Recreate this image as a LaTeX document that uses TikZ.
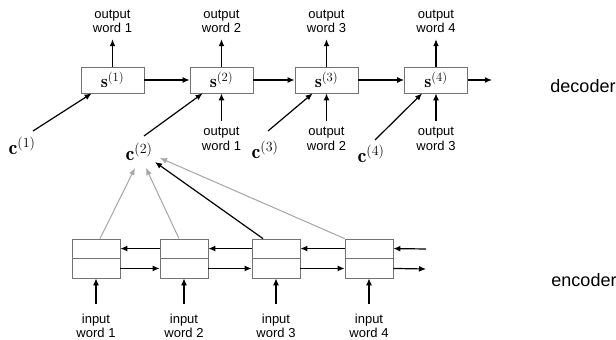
\RequirePackage{fix-cm}
\documentclass[tikz,border=0pt]{standalone}
\usepackage{fontspec}
\setsansfont{Liberation Sans}
\usetikzlibrary{arrows.meta,calc}
\begin{document}
\begin{tikzpicture}[x=1pt,y=-1pt,
  arr/.style={line width=1.2pt,-{Latex[length=7pt,width=6pt]}},
  garr/.style={line width=1pt,draw=black!35,-{Latex[length=7pt,width=6pt]}},
  dbox/.style={draw=black!55,line width=0.8pt,minimum width=63pt,minimum height=26pt,inner sep=0pt,font=\fontsize{18}{20}\selectfont},
  ebox/.style={draw=black!55,line width=0.8pt,minimum width=48pt,minimum height=39pt,inner sep=0pt},
  lbl/.style={align=center,inner sep=0pt,font=\sffamily\fontsize{13}{14.5}\selectfont},
  side/.style={inner sep=0pt,font=\sffamily\fontsize{18}{20}\selectfont},
  cl/.style={inner sep=0pt,font=\fontsize{20}{22}\selectfont}]
\useasboundingbox (0,0) rectangle (616,340);
% decoder
\node[dbox] (s1) at (112.5,80) {$\mathbf{s}^{(1)}$};
\node[dbox] (s2) at (221.5,80) {$\mathbf{s}^{(2)}$};
\node[dbox] (s3) at (326.5,80) {$\mathbf{s}^{(3)}$};
\node[dbox] (s4) at (436,80) {$\mathbf{s}^{(4)}$};
\coordinate (send) at (492,80);
\draw[arr] (s1) -- (s2);
\draw[arr] (s2) -- (s3);
\draw[arr] (s3) -- (s4);
\draw[arr] (s4) -- (send);
% outputs
\node[lbl] (o1) at (112.5,21.5) {output\\word 1};
\node[lbl] (o2) at (221.5,21.5) {output\\word 2};
\node[lbl] (o3) at (326.5,21.5) {output\\word 3};
\node[lbl] (o4) at (436,21.5) {output\\word 4};
\foreach \i in {1,2,3,4}{\draw[arr] (s\i.north) -- ($(o\i.south)+(0,6)$);}
% previous outputs
\node[lbl] (p2) at (221.5,139) {output\\word 1};
\node[lbl] (p3) at (326.5,139) {output\\word 2};
\node[lbl] (p4) at (436,139) {output\\word 3};
\foreach \i in {2,3,4}{\draw[arr] ($(p\i.north)+(0,-6)$) -- (s\i.south);}
% contexts
\node[cl] (c1) at (22,146) {$\mathbf{c}^{(1)}$};
\node[cl] (c2) at (139,152) {$\mathbf{c}^{(2)}$};
\node[cl] (c3) at (265,150) {$\mathbf{c}^{(3)}$};
\node[cl] (c4) at (371,154) {$\mathbf{c}^{(4)}$};
\draw[arr] ($(c1)+(11,-15)$) -- ($(s1.south west)+(11,0)$);
\draw[arr] ($(c2)+(5,-16)$) -- ($(s2.south west)+(13,0)$);
\draw[arr] ($(c3)+(3,-19)$) -- ($(s3.south west)+(18,0)$);
\draw[arr] ($(c4)+(4,-14)$) -- ($(s4.south west)+(18,0)$);
% encoder
\foreach \i/\x in {1/96,2/184,3/276,4/369}{
  \node[ebox] (e\i) at (\x,258.5) {};
  \draw[draw=black!55,line width=0.8pt] (e\i.west) -- (e\i.east);
  \node[lbl] (in\i) at (\x,326) {input\\word \i};
  \draw[arr] ($(in\i.north)+(0,-10)$) -- (e\i.south);
}
\coordinate (bin) at (426,249);
\coordinate (fout) at (426,269);
\draw[arr] ($(e2.west)!0.5!(e2.north west)$) -- ($(e1.east)!0.5!(e1.north east)$);
\draw[arr] ($(e3.west)!0.5!(e3.north west)$) -- ($(e2.east)!0.5!(e2.north east)$);
\draw[arr] ($(e4.west)!0.5!(e4.north west)$) -- ($(e3.east)!0.5!(e3.north east)$);
\draw[arr] (bin) -- ($(e4.east)!0.5!(e4.north east)$);
\draw[arr] ($(e1.east)!0.5!(e1.south east)$) -- ($(e2.west)!0.5!(e2.south west)$);
\draw[arr] ($(e2.east)!0.5!(e2.south east)$) -- ($(e3.west)!0.5!(e3.south west)$);
\draw[arr] ($(e3.east)!0.5!(e3.south east)$) -- ($(e4.west)!0.5!(e4.south west)$);
\draw[arr] ($(e4.east)!0.5!(e4.south east)$) -- (fout);
% attention
\draw[garr] ($(e1.north)+(4,0)$) -- ($(c2)+(-4,16)$);
\draw[garr] ($(e2.north)+(-5,0)$) -- ($(c2)+(7,16)$);
\draw[arr] ($(e3.north)+(-13,0)$) -- ($(c2)+(16,10)$);
\draw[garr] (e4.north west) -- ($(c2)+(21,6)$);
% side labels
\node[side] (dec) at (583,86) {decoder};
\node[side] (enc) at (584,280) {encoder};
\end{tikzpicture}
\end{document}
